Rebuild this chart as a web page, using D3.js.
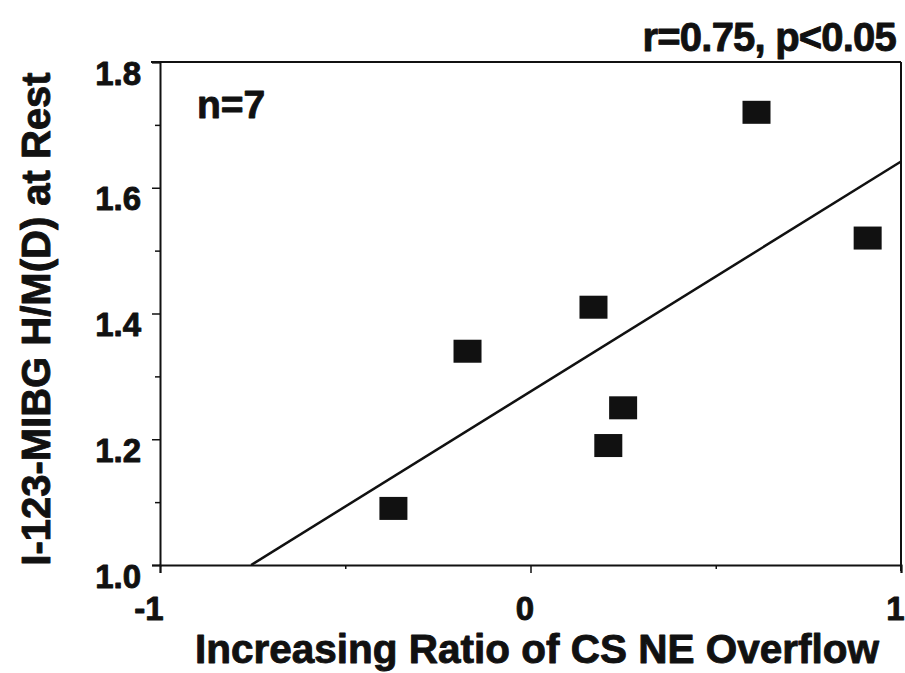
<!DOCTYPE html>
<html>
<head>
<meta charset="utf-8">
<script src="https://cdn.jsdelivr.net/npm/d3@7"></script>
<style>
  html, body { margin: 0; padding: 0; background: #fff; }
  svg text {
    font-family: "Liberation Sans", Arial, Helvetica, sans-serif; font-weight: bold;
    fill: #111; stroke: #111; stroke-width: 0.9px; stroke-linejoin: round;
  }
</style>
</head>
<body>
<svg id="chart" width="905" height="673"></svg>
<script>
// Patient values: CS NE overflow ratio vs. I-123-MIBG heart/mediastinum ratio
const overflowRatio = [-0.37, -0.17, 0.17, 0.21, 0.25, 0.61, 0.91];
const mibgHM        = [1.09, 1.34, 1.41, 1.19, 1.25, 1.72, 1.52];

const xTicks = [-1, 0, 1];
const xMinorTicks = [-0.5, 0.5];
const yTicks = [1.0, 1.2, 1.4, 1.6, 1.8];
const yMinorTicks = [1.1, 1.3, 1.5, 1.7];

const statText = "r=0.75, p<0.05";
const nText = "n=7";
const xTitle = "Increasing Ratio of CS NE Overflow";
const yTitle = "I-123-MIBG H/M(D) at Rest";

const W = 905, H = 673;
const margin = { left: 160, right: 4, top: 62, bottom: 108 };
const svg = d3.select("#chart");
const g = svg.append("g").attr("transform", `translate(${margin.left},${margin.top})`);
const iw = W - margin.left - margin.right;
const ih = H - margin.top - margin.bottom;

const x = d3.scaleLinear().domain([-1, 1]).range([0, iw]);
const y = d3.scaleLinear().domain([1.0, 1.8]).range([ih, 0]);

const ink = "#111";

// frame: top and right edges
g.append("line").attr("x1", x(-1) - 9).attr("x2", x(1)).attr("y1", y(1.8)).attr("y2", y(1.8))
  .attr("stroke", ink).attr("stroke-width", 2);
g.append("line").attr("x1", x(1)).attr("x2", x(1)).attr("y1", y(1.8)).attr("y2", y(1.0) + 6)
  .attr("stroke", ink).attr("stroke-width", 2);

// y axis
const yAxis = g.append("g")
  .call(d3.axisLeft(y).tickValues(yTicks).tickSize(8).tickFormat(d3.format(".1f")));
yAxis.select(".domain").attr("stroke", ink).attr("stroke-width", 2);
yAxis.selectAll(".tick line").attr("stroke", ink).attr("stroke-width", 1.5);
yAxis.selectAll(".tick text")
  .attr("x", -19).attr("y", 22).attr("dy", 0)
  .style("font-size", "33px");
g.append("g")
  .call(d3.axisLeft(y).tickValues(yMinorTicks).tickSize(5).tickFormat(""))
  .call(a => a.select(".domain").remove())
  .selectAll(".tick line").attr("stroke", ink).attr("stroke-width", 1.5);

// x axis
const xAxis = g.append("g").attr("transform", `translate(0,${ih})`)
  .call(d3.axisBottom(x).tickValues(xTicks).tickSize(8).tickFormat(d => String(d)));
xAxis.select(".domain").attr("stroke", ink).attr("stroke-width", 2);
xAxis.selectAll(".tick line").attr("stroke", ink).attr("stroke-width", 1.5);
xAxis.selectAll(".tick text")
  .attr("text-anchor", "end")
  .attr("x", 3).attr("y", 55).attr("dy", 0)
  .style("font-size", "33px");
g.append("g").attr("transform", `translate(0,${ih})`)
  .call(d3.axisBottom(x).tickValues(xMinorTicks).tickSize(4).tickFormat(""))
  .call(a => a.select(".domain").remove())
  .selectAll(".tick line").attr("stroke", ink).attr("stroke-width", 1.5);

// least-squares regression line, clipped to the plot box
const mx = d3.mean(overflowRatio), my = d3.mean(mibgHM);
const sxy = d3.sum(overflowRatio, (v, i) => (v - mx) * (mibgHM[i] - my));
const sxx = d3.sum(overflowRatio, v => (v - mx) * (v - mx));
const slope = sxy / sxx, intercept = my - slope * mx;
const xStart = Math.max(-1, (1.0 - intercept) / slope);
const xEnd = Math.min(1, (1.8 - intercept) / slope);
g.append("line")
  .attr("x1", x(xStart)).attr("y1", y(intercept + slope * xStart))
  .attr("x2", x(xEnd)).attr("y2", y(intercept + slope * xEnd))
  .attr("stroke", ink).attr("stroke-width", 2.5);

// data squares
const sw = 28, sh = 23;
g.selectAll("rect.pt")
  .data(overflowRatio.map((v, i) => ({ x: v, y: mibgHM[i] })))
  .join("rect")
  .attr("class", "pt")
  .attr("x", d => x(d.x) - sw / 2)
  .attr("y", d => y(d.y) - sh / 2)
  .attr("width", sw).attr("height", sh)
  .attr("fill", ink);

// annotations
svg.append("text").attr("x", 896).attr("y", 51).attr("text-anchor", "end")
  .style("font-size", "40px").style("letter-spacing", "-0.8px").text(statText);
svg.append("text").attr("x", 197).attr("y", 118)
  .style("font-size", "39px").text(nText);

// axis titles
svg.append("text").attr("x", 537).attr("y", 663).attr("text-anchor", "middle")
  .style("font-size", "40.5px").text(xTitle);
svg.append("text")
  .attr("transform", "translate(50,319) rotate(-90)")
  .attr("text-anchor", "middle")
  .style("font-size", "40px").text(yTitle);
</script>
</body>
</html>
